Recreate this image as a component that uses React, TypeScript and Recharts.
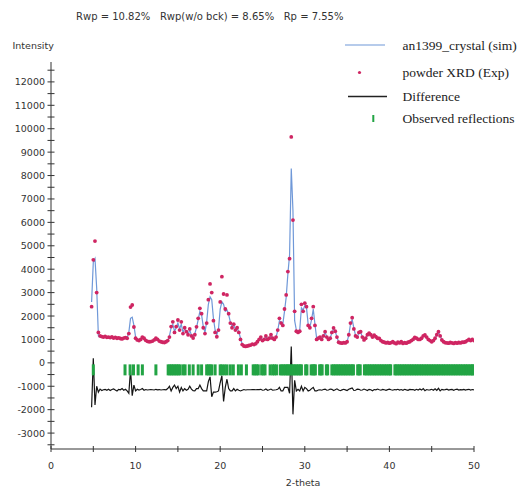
import React from "react";
import { ComposedChart, Line, Scatter, XAxis, YAxis, Legend, Label } from "recharts";

// 2-theta grid of the measured pattern
const twoTheta = [
  4.8, 5.0, 5.2, 5.4, 5.6, 5.8, 6.0, 6.2, 6.4, 6.6,
  6.8, 7.0, 7.2, 7.4, 7.6, 7.8, 8.0, 8.2, 8.4, 8.6,
  8.8, 9.0, 9.2, 9.4, 9.6, 9.8, 10.0, 10.2, 10.4, 10.6,
  10.8, 11.0, 11.2, 11.4, 11.6, 11.8, 12.0, 12.2, 12.4, 12.6,
  12.8, 13.0, 13.2, 13.4, 13.6, 13.8, 14.0, 14.2, 14.4, 14.6,
  14.8, 15.0, 15.2, 15.4, 15.6, 15.8, 16.0, 16.2, 16.4, 16.6,
  16.8, 17.0, 17.2, 17.4, 17.6, 17.8, 18.0, 18.2, 18.4, 18.6,
  18.8, 19.0, 19.2, 19.4, 19.6, 19.8, 20.0, 20.2, 20.4, 20.6,
  20.8, 21.0, 21.2, 21.4, 21.6, 21.8, 22.0, 22.2, 22.4, 22.6,
  22.8, 23.0, 23.2, 23.4, 23.6, 23.8, 24.0, 24.2, 24.4, 24.6,
  24.8, 25.0, 25.2, 25.4, 25.6, 25.8, 26.0, 26.2, 26.4, 26.6,
  26.8, 27.0, 27.2, 27.4, 27.6, 27.8, 28.0, 28.2, 28.4, 28.6,
  28.8, 29.0, 29.2, 29.4, 29.6, 29.8, 30.0, 30.2, 30.4, 30.6,
  30.8, 31.0, 31.2, 31.4, 31.6, 31.8, 32.0, 32.2, 32.4, 32.6,
  32.8, 33.0, 33.2, 33.4, 33.6, 33.8, 34.0, 34.2, 34.4, 34.6,
  34.8, 35.0, 35.2, 35.4, 35.6, 35.8, 36.0, 36.2, 36.4, 36.6,
  36.8, 37.0, 37.2, 37.4, 37.6, 37.8, 38.0, 38.2, 38.4, 38.6,
  38.8, 39.0, 39.2, 39.4, 39.6, 39.8, 40.0, 40.2, 40.4, 40.6,
  40.8, 41.0, 41.2, 41.4, 41.6, 41.8, 42.0, 42.2, 42.4, 42.6,
  42.8, 43.0, 43.2, 43.4, 43.6, 43.8, 44.0, 44.2, 44.4, 44.6,
  44.8, 45.0, 45.2, 45.4, 45.6, 45.8, 46.0, 46.2, 46.4, 46.6,
  46.8, 47.0, 47.2, 47.4, 47.6, 47.8, 48.0, 48.2, 48.4, 48.6,
  48.8, 49.0, 49.2, 49.4, 49.6, 49.8, 50.0,
];

// powder XRD (Exp)
const expIntensity = [
  2400, 4400, 5200, 3000, 1300, 1150, 1120, 1100, 1130, 1090,
  1100, 1080, 1110, 1060, 1090, 1050, 1070, 1040, 1020, 1060,
  1080, 1050, 1250, 2380, 2470, 1530, 1050, 980, 950, 1000,
  1100, 1050, 960, 920, 900, 910, 930, 980, 1050, 1000,
  930, 900, 880, 870, 900, 950, 1100, 1550, 1750, 1300,
  1550, 1830, 1400, 1750, 1250, 1500, 1330, 1200, 1450, 1150,
  1060, 1200, 1540, 1900, 2330, 2100, 1500, 1250, 1700, 2700,
  3370, 3000, 1800, 1300, 1115, 1400, 2600, 3680, 2940, 2300,
  2900, 2100, 1700, 1500, 1650, 1400, 1500, 1300, 1000, 780,
  720, 700, 720, 740, 760, 800, 780, 820, 900, 1000,
  1100, 950, 1000, 1150, 1000, 1050, 1200, 1050, 1000, 1100,
  1400, 1900, 1700, 1600, 2300, 2900, 3900, 4450, 9650, 6100,
  2200, 1350, 1300, 1350, 2500, 2200, 2550, 2400, 1600, 1500,
  1900, 2400, 1600, 1000, 1050, 1100, 1000, 1150, 1330, 1100,
  1000, 1050, 1300, 1490, 1350, 1100, 880, 850, 840, 860,
  850, 900, 1200, 1700, 1930, 1450, 1150, 1100, 1300, 1330,
  1100, 980, 1050, 1200, 1270, 1200, 1100, 1180, 1115, 1050,
  1040, 950, 900, 880, 850, 870, 840, 860, 900, 850,
  820, 880, 850, 900, 830, 860, 840, 880, 900, 950,
  1000, 1090, 1050, 1000, 1000, 1050, 1150, 1190, 1100, 1000,
  950, 900, 950, 1050, 1200, 1330, 1150, 975, 900, 860,
  850, 840, 870, 850, 830, 860, 840, 870, 850, 880,
  880, 900, 950, 1000, 950, 1000, 950,
];

// an1399_crystal (sim)
const simIntensity = [
  2600, 4300, 4450, 3200, 1150, 1100, 1110, 1100, 1110, 1090,
  1090, 1080, 1090, 1070, 1080, 1060, 1060, 1050, 1040, 1050,
  1060, 1070, 1300, 1900, 1950, 1600, 1100, 1000, 960, 990,
  1080, 1040, 970, 930, 910, 915, 935, 990, 1040, 990,
  930, 900, 885, 875, 895, 940, 1150, 1500, 1650, 1350,
  1500, 1700, 1450, 1650, 1300, 1450, 1350, 1220, 1400, 1180,
  1100, 1250, 1500, 1850, 2200, 2050, 1550, 1300, 1750, 2500,
  2820, 2700, 1900, 1400, 1200, 1450, 2300, 2610, 2500, 2200,
  2255, 2050, 1750, 1550, 1600, 1450, 1480, 1320, 1050, 800,
  730, 710, 720, 740, 760, 790, 790, 820, 890, 990,
  1080, 970, 1010, 1120, 1020, 1050, 1170, 1070, 1010, 1100,
  1380, 1800, 1750, 1650, 2200, 2800, 3800, 4600, 8300, 6500,
  1800, 1400, 1320, 1400, 2350, 2250, 2450, 2350, 1650, 1520,
  1850, 2300, 1650, 1050, 1060, 1100, 1020, 1140, 1300, 1120,
  1010, 1060, 1280, 1450, 1350, 1100, 890, 850, 845, 860,
  855, 910, 1180, 1650, 1850, 1480, 1170, 1110, 1280, 1310,
  1110, 990, 1050, 1190, 1250, 1200, 1110, 1170, 1120, 1060,
  1040, 960, 905, 880, 855, 865, 845, 860, 890, 855,
  825, 870, 855, 890, 840, 860, 845, 875, 895, 940,
  990, 1070, 1050, 1010, 1000, 1045, 1130, 1170, 1100, 1010,
  955, 910, 950, 1040, 1180, 1300, 1160, 990, 905, 860,
  850, 845, 865, 850, 835, 855, 845, 865, 850, 875,
  880, 895, 940, 990, 955, 990, 955,
];

// Difference (offset below the pattern)
const diffIntensity = [
  -1900, 200, -1800, -1000, -1250, -1120, -1180, -1150, -1130, -1170,
  -1130, -1180, -1140, -1110, -1160, -1200, -1130, -1150, -1100, -1170,
  -1130, -1200, -1300, -300, -1400, -950, -1200, -1130, -1160, -1140,
  -1100, -1170, -1140, -1160, -1150, -1140, -1150, -1160, -1130, -1150,
  -1140, -1160, -1150, -1140, -1150, -1100, -1000, -1200, -1050, -950,
  -1100, -1000, -1250, -1050, -1200, -1100, -1170, -1130, -1000, -1120,
  -1190, -1200, -1100, -1100, -950, -1100, -1200, -1200, -1200, -800,
  -600, -1450, -1250, -1250, -1235, -1200, -850, -550, -1650, -1050,
  -700, -1100, -1200, -1200, -1100, -1200, -1130, -1170, -1200, -1170,
  -1140, -1160, -1150, -1150, -1150, -1140, -1140, -1150, -1140, -1140,
  -1130, -1170, -1160, -1120, -1170, -1150, -1120, -1170, -1160, -1150,
  -1130, -1050, -1200, -1200, -1050, -1050, -1050, -1300, 700, -2200,
  -750, -1200, -1130, -1200, -1000, -1200, -1050, -1100, -1200, -1170,
  -1100, -1050, -1200, -1200, -1160, -1150, -1170, -1140, -1120, -1170,
  -1160, -1120, -1130, -1180, -1150, -1110, -1160, -1190, -1155, -1130,
  -1155, -1180, -1130, -1100, -1070, -1180, -1170, -1120, -1130, -1170,
  -1160, -1120, -1150, -1180, -1130, -1150, -1190, -1140, -1155, -1120,
  -1150, -1170, -1135, -1150, -1175, -1145, -1125, -1150, -1170, -1140,
  -1155, -1130, -1165, -1140, -1170, -1130, -1155, -1175, -1135, -1140,
  -1140, -1170, -1130, -1160, -1120, -1165, -1100, -1190, -1140, -1160,
  -1155, -1130, -1170, -1110, -1180, -1090, -1200, -1135, -1155, -1145,
  -1125, -1165, -1145, -1135, -1170, -1140, -1125, -1165, -1145, -1155,
  -1135, -1165, -1140, -1130, -1160, -1140, -1155,
];

// Observed reflections (2-theta positions)
const reflections = [
  5.0, 8.75, 9.35, 9.75, 10.3, 10.8, 12.4,
  13.85, 14.05, 14.25, 14.45, 14.65, 14.85, 15.05, 15.25, 15.6, 15.85,
  16.35, 16.8, 17.4, 17.8, 18.4, 18.6, 18.8, 19.0, 19.4,
  20.0, 20.2, 20.5, 20.8, 21.2, 21.55, 22.15, 22.5, 23.1,
  23.9, 24.1, 24.3, 24.5, 24.9, 25.1, 25.3, 25.9, 26.2, 26.4, 26.65,
  27.1, 27.3, 27.5, 27.7, 27.9,
  28.05, 28.25, 28.45, 28.65, 28.85, 29.05, 29.25, 29.45, 29.6,
  30.1, 30.25, 30.75, 30.95, 31.1, 31.25,
  31.75, 31.9, 32.05, 32.55, 32.7, 33.2, 33.4, 33.6, 33.8,
  34.0, 34.2, 34.4, 34.6, 34.8, 35.0, 35.2, 35.4, 35.6, 35.75,
  36.25, 36.4, 36.55, 37.05, 37.25, 37.45, 37.65, 37.85, 38.05, 38.25,
  38.45, 38.65, 38.85, 39.05, 39.25, 39.45, 39.65, 39.85, 40.05, 40.15,
  40.65, 40.8, 41.0, 41.2, 41.4, 41.6, 41.8, 42.0, 42.2, 42.4,
  42.6, 42.8, 43.0, 43.2, 43.4, 43.6, 43.8, 44.0, 44.2, 44.4,
  44.6, 44.8, 45.0, 45.2, 45.4, 45.6, 45.8, 46.0, 46.2, 46.4,
  46.6, 46.8, 47.0, 47.2, 47.4, 47.6, 47.8, 48.0, 48.2, 48.4,
  48.6, 48.8, 49.0, 49.2, 49.4, 49.6, 49.8, 49.9,
];

const yTicks = [
  -3500, -3000, -2500, -2000, -1500, -1000, -500, 0, 500, 1000, 1500,
  2000, 2500, 3000, 3500, 4000, 4500, 5000, 5500, 6000, 6500, 7000,
  7500, 8000, 8500, 9000, 9500, 10000, 10500, 11000, 11500, 12000, 12500,
];
const xTicks = [0, 5, 10, 15, 20, 25, 30, 35, 40, 45, 50];

const rows = twoTheta.map((t, i) => ({
  t,
  exp: expIntensity[i],
  sim: simIntensity[i],
  diff: diffIntensity[i],
}));
const reflectionRows = reflections.map((t) => ({ t, mark: -300 }));

const AXIS_FONT = "'DejaVu Sans', Verdana, sans-serif";
const LEGEND_FONT = "'Liberation Serif', 'Times New Roman', serif";
const SIM_COLOR = "#6f98d8";
const EXP_COLOR = "#cf2562";
const REFL_COLOR = "#22a444";

const YTick = (props: any) => {
  const { x, y, payload } = props;
  const v = payload.value;
  return (
    <g>
      <line x1={x - 3.5} x2={x + 3.5} y1={y} y2={y} stroke="#333" />
      {v % 1000 === 0 && (
        <text x={x - 6} y={y + 3.5} textAnchor="end" fontSize={9.5} fontFamily={AXIS_FONT} fill="#333">
          {v}
        </text>
      )}
    </g>
  );
};

const XTick = (props: any) => {
  const { x, y, payload } = props;
  const v = payload.value;
  return (
    <g>
      <line x1={x} x2={x} y1={y - 3} y2={y + 3} stroke="#333" />
      {v % 10 === 0 && (
        <text x={x} y={y + 19.5} textAnchor="middle" fontSize={9.5} fontFamily={AXIS_FONT} fill="#333">
          {v}
        </text>
      )}
    </g>
  );
};

const LegendBox = () => (
  <svg width={190} height={100} style={{ overflow: "visible", display: "block" }}>
    <g fontFamily={LEGEND_FONT} fontSize={13.5} fill="#222">
      <line x1={15} x2={55} y1={15} y2={15} stroke={SIM_COLOR} strokeWidth={1.2} />
      <text x={72.5} y={19.5}>an1399_crystal (sim)</text>
      <circle cx={29.5} cy={42.5} r={1.6} fill={EXP_COLOR} />
      <text x={72.5} y={47}>powder XRD (Exp)</text>
      <line x1={18} x2={57} y1={66.5} y2={66.5} stroke="#222" strokeWidth={1.4} />
      <text x={72.5} y={71}>Difference</text>
      <rect x={42.3} y={85} width={2} height={7} fill={REFL_COLOR} />
      <text x={72.5} y={93}>Observed reflections</text>
    </g>
  </svg>
);

export default function App() {
  return (
    <div style={{ position: "absolute", left: 0, top: 0, width: 520, height: 488, background: "#fff" }}>
      <ComposedChart width={520} height={488} data={rows} margin={{ top: 62, right: 46, bottom: 0, left: 0 }}>
        <XAxis
          dataKey="t"
          type="number"
          domain={[0, 50]}
          ticks={xTicks}
          interval={0}
          allowDataOverflow
          height={39}
          tickSize={0}
          tickMargin={0}
          tickLine={false}
          tick={<XTick />}
          axisLine={{ stroke: "#333" }}
        >
          <Label
            content={() => (
              <text x={303} y={486} textAnchor="middle" fontSize={9.5} fontFamily={AXIS_FONT} fill="#333">
                2-theta
              </text>
            )}
          />
        </XAxis>
        <YAxis
          type="number"
          domain={[-3680, 12850]}
          ticks={yTicks}
          interval={0}
          allowDataOverflow
          width={51}
          tickSize={0}
          tickMargin={0}
          tickLine={false}
          tick={<YTick />}
          axisLine={{ stroke: "#333" }}
        >
          <Label
            content={() => (
              <g fontFamily={AXIS_FONT} fill="#333">
                <text x={12.5} y={48.5} fontSize={9.5}>Intensity</text>
                <text x={76} y={19.5} fontSize={10} style={{ whiteSpace: "pre" }}>
                  {"Rwp = 10.82%   Rwp(w/o bck) = 8.65%   Rp = 7.55%"}
                </text>
              </g>
            )}
          />
        </YAxis>
        <Legend
          layout="vertical"
          align="center"
          verticalAlign="middle"
          wrapperStyle={{ left: 330, top: 30, width: 190, height: 100 }}
          content={() => <LegendBox />}
        />
        <Line
          dataKey="sim"
          type="linear"
          stroke={SIM_COLOR}
          strokeWidth={1.2}
          dot={false}
          activeDot={false}
          isAnimationActive={false}
        />
        <Scatter
          dataKey="exp"
          isAnimationActive={false}
          shape={(p: any) => <circle cx={p.cx} cy={p.cy} r={1.9} fill={EXP_COLOR} />}
        />
        <Line
          dataKey="diff"
          type="linear"
          stroke="#151515"
          strokeWidth={1.2}
          dot={false}
          activeDot={false}
          isAnimationActive={false}
        />
        <Scatter
          data={reflectionRows}
          dataKey="mark"
          isAnimationActive={false}
          shape={(p: any) => <rect x={p.cx - 1.5} y={p.cy - 5.5} width={3} height={11} fill={REFL_COLOR} />}
        />
      </ComposedChart>
    </div>
  );
}
